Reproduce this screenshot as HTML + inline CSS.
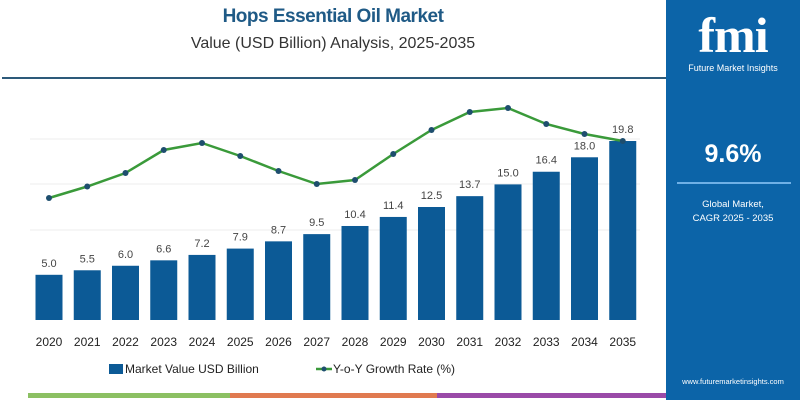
<!DOCTYPE html>
<html><head><meta charset="utf-8"><style>
body{margin:0;width:800px;height:400px;background:#fff;font-family:"Liberation Sans",sans-serif;overflow:hidden;position:relative}
.t{position:absolute;left:0;width:666px;text-align:center}
</style></head><body>
<div class="t" style="top:6px;font-size:19px;font-weight:bold;color:#1f5a86;letter-spacing:-0.5px">Hops Essential Oil Market</div>
<div class="t" style="top:35px;font-size:16px;color:#333">Value (USD Billion) Analysis, 2025-2035</div>
<div style="position:absolute;left:2px;top:77px;width:664px;height:2px;background:#2d5a7a"></div>
<div style="position:absolute;left:666px;top:0;width:134px;height:400px;background:#0c64a8;color:#fff;text-align:center">
<div style="position:absolute;top:6px;width:134px;font-size:50px;font-weight:bold;font-family:'Liberation Serif',serif;letter-spacing:-1px">fmi</div>
<div style="position:absolute;top:63px;width:134px;font-size:9px">Future Market Insights</div>
<div style="position:absolute;top:140px;width:134px;font-size:25px;font-weight:bold">9.6%</div>
<div style="position:absolute;top:182px;left:11px;width:114px;height:2px;background:#6fb0e6"></div>
<div style="position:absolute;top:198px;width:134px;font-size:9.5px;line-height:14px">Global Market,<br>CAGR 2025 - 2035</div>
<div style="position:absolute;top:377px;width:134px;font-size:7.5px">www.futuremarketinsights.com</div>
</div>
<svg id="c" width="666" height="400" style="position:absolute;left:0;top:0"></svg>
<div style="position:absolute;left:28px;top:393px;width:202px;height:5px;background:#8cc063"></div>
<div style="position:absolute;left:230px;top:393px;width:207px;height:5px;background:#e07a50"></div>
<div style="position:absolute;left:437px;top:393px;width:229px;height:5px;background:#9a4aa8"></div>
<script>
const years=["2020","2021","2022","2023","2024","2025","2026","2027","2028","2029","2030","2031","2032","2033","2034","2035"];
const values=[5.0,5.5,6.0,6.6,7.2,7.9,8.7,9.5,10.4,11.4,12.5,13.7,15.0,16.4,18.0,19.8];
const labels=["5.0","5.5","6.0","6.6","7.2","7.9","8.7","9.5","10.4","11.4","12.5","13.7","15.0","16.4","18.0","19.8"];
const growth=[5.2,6.35,7.7,10.0,10.7,9.4,7.9,6.6,7.0,9.6,12.0,13.8,14.2,12.6,11.6,10.9];
const NS="http://www.w3.org/2000/svg";
const svg=document.getElementById('c');
const x=i=>49+i*38.25;
const y=v=>320-v*9.04;
const gy=g=>250-g*10;
function mk(t,a){const e=document.createElementNS(NS,t);for(const k in a)e.setAttribute(k,a[k]);svg.appendChild(e);return e;}
[139,184,230].forEach(v=>{const l=mk('line',{x1:30,x2:640,y1:v,y2:v,stroke:'#eee','stroke-width':1});

});
values.forEach((v,i)=>{
const r=mk('rect',{x:x(i)-13.5,y:y(v),width:27,height:320-y(v),fill:'#0c5a96'});


const t=mk('text',{x:x(i),y:y(v)-8,'text-anchor':'middle','font-size':11,fill:'#444'});t.textContent=labels[i];


const yt=mk('text',{x:x(i),y:346,'text-anchor':'middle','font-size':12,fill:'#222'});yt.textContent=years[i];


});
const pl=mk('polyline',{points:growth.map((g,i)=>x(i)+','+gy(g)).join(' '),fill:'none',stroke:'#3a9a3a','stroke-width':2.5});


growth.forEach((g,i)=>{const c=mk('circle',{cx:x(i),cy:gy(g),r:3,fill:'#1e4e6e'});

});
const lr=mk('rect',{x:109,y:364,width:14,height:10,fill:'#0c5a96'});


const lt=mk('text',{x:125,y:373,'font-size':12,fill:'#222'});lt.textContent='Market Value USD Billion';


const ll=mk('line',{x1:316,x2:332,y1:369,y2:369,stroke:'#3a9a3a','stroke-width':2.5});


mk('circle',{cx:324,cy:369,r:2.5,fill:'#1e4e6e'});
const lt2=mk('text',{x:333,y:373,'font-size':12,fill:'#222'});lt2.textContent='Y-o-Y Growth Rate (%)';


</script>
</body></html>
